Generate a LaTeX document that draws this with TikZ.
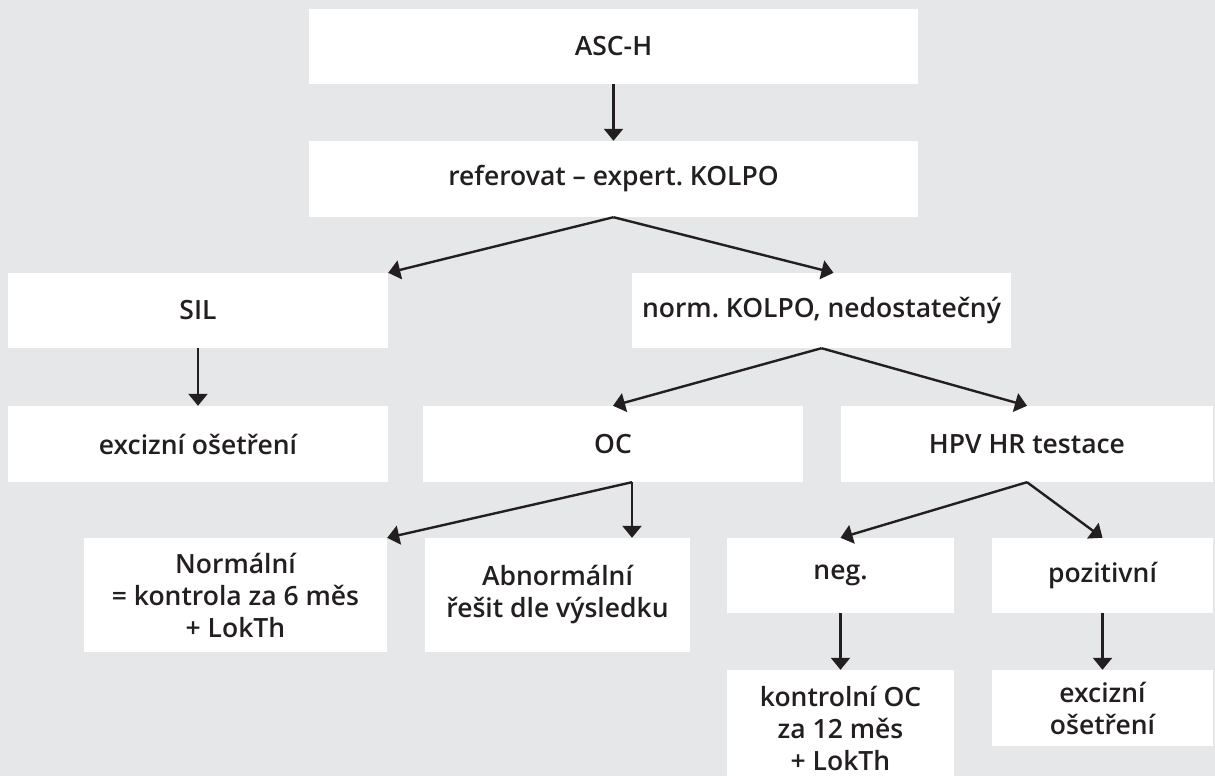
\documentclass[tikz,border=0pt]{standalone}
\usepackage{fontspec}
\setmainfont{Open Sans}[UprightFont=* Semibold]
\usetikzlibrary{arrows.meta}
\definecolor{bg}{HTML}{E6E7E9}
\definecolor{ink}{HTML}{231F20}
\frenchspacing
\begin{document}
\begin{tikzpicture}[x=1pt,y=-1pt,
  box/.style={fill=white,draw=none,inner sep=0pt,align=center,text=ink,
    font=\fontsize{26.5}{32}\selectfont},
  conn/.style={draw=ink,line width=2.4pt,-{Triangle[width=19pt,length=12pt]}}]
\useasboundingbox[fill=bg] (0,0) rectangle (1215,776);
% row 1-2
\node[box,minimum width=609pt,minimum height=75pt] (asch) at (613.5,46.5) {ASC-H};
\node[box,minimum width=609pt,minimum height=76pt] (ref) at (613.5,179) {referovat – expert. KOLPO};
% row 3
\node[box,minimum width=380pt,minimum height=75pt] (sil) at (198,310.5) {SIL};
\node[box,minimum width=379pt,minimum height=75pt] (norm) at (821.5,310.5) {norm. KOLPO, nedostatečný};
% row 4
\node[box,minimum width=380pt,minimum height=76pt] (exc) at (198,444) {excizní ošetření};
\node[box,minimum width=380pt,minimum height=76pt] (oc) at (613,444) {OC};
\node[box,minimum width=372pt,minimum height=76pt] (hpv) at (1027,444) {HPV HR testace};
% row 5
\node[box,minimum width=303pt,minimum height=114pt] (normal) at (235.5,595) {Normální\\= kontrola za 6 měs\\+ LokTh};
\node[box,minimum width=265pt,minimum height=114pt] (abn) at (557.5,595) {Abnormální\\řešit dle výsledku};
\node[box,minimum width=227pt,minimum height=75pt] (neg) at (840.5,575.5) {neg.};
\node[box,minimum width=221pt,minimum height=75pt] (poz) at (1102.5,575.5) {pozitivní};
% row 6
\node[box,minimum width=227pt,minimum height=116pt] (kon) at (840.5,728) {kontrolní OC\\za 12 měs\\+ LokTh};
\node[box,minimum width=221pt,minimum height=76pt] (exc2) at (1102.5,708) {excizní\\ošetření};
% connectors
\draw[conn] (asch.south) -- (ref.north);
\draw[conn] (ref.south) -- (sil.north east);
\draw[conn] (ref.south) -- ([xshift=12pt]norm.north);
\draw[conn] (sil.south) -- (exc.north);
\draw[conn] (norm.south) -- (oc.north);
\draw[conn] (norm.south) -- (hpv.north);
\coordinate (ocs) at ([xshift=19pt]oc.south);
\draw[conn] (ocs) -- (normal.north east);
\draw[conn] (ocs) -- (ocs |- abn.north);
\draw[conn] (hpv.south) -- (neg.north);
\draw[conn] (hpv.south) -- (poz.north);
\draw[conn] (neg.south) -- (kon.north);
\draw[conn] (poz.south) -- (exc2.north);
\end{tikzpicture}
\end{document}
